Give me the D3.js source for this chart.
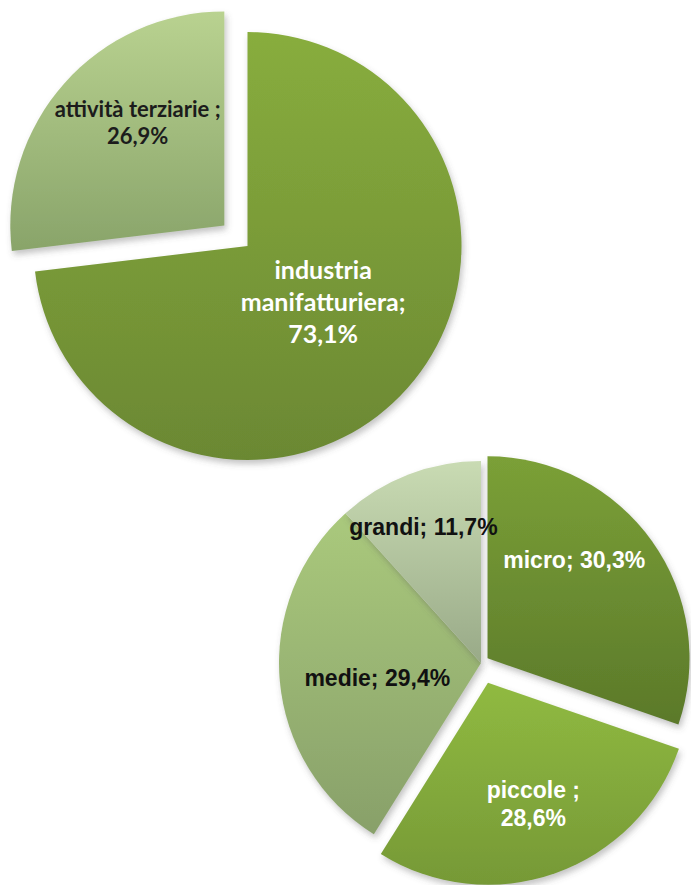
<!DOCTYPE html>
<html>
<head>
<meta charset="utf-8">
<script src="https://cdn.jsdelivr.net/npm/d3@7"></script>
<style>
  body { margin: 0; background: #fff; }
  svg { display: block; }
</style>
</head>
<body>
<svg width="691" height="885"></svg>
<script>
// settori (grafico in alto)
var settori = ["industria manifatturiera", "attività terziarie"];
var settoriValori = [73.1, 26.9];
var settoriEtichette = [["industria", "manifatturiera;", "73,1%"], ["attività terziarie ;", "26,9%"]];

// classi dimensionali (grafico in basso)
var classi = ["micro", "piccole", "medie", "grandi"];
var classiValori = [30.3, 28.6, 29.4, 11.7];
var classiEtichette = [["micro; 30,3%"], ["piccole ;", "28,6%"], ["medie; 29,4%"], ["grandi; 11,7%"]];

var svg = d3.select("svg");
var defs = svg.append("defs");

var shadow = defs.append("filter").attr("id", "ombra")
    .attr("x", "-10%").attr("y", "-10%").attr("width", "130%").attr("height", "130%");
shadow.append("feDropShadow")
    .attr("dx", 2).attr("dy", 4).attr("stdDeviation", 3)
    .attr("flood-color", "#555").attr("flood-opacity", 0.35);

function gradient(id, top, bottom) {
  var g = defs.append("linearGradient").attr("id", id)
      .attr("x1", 0).attr("y1", 0).attr("x2", 0).attr("y2", 1);
  g.append("stop").attr("offset", "0%").attr("stop-color", top);
  g.append("stop").attr("offset", "100%").attr("stop-color", bottom);
  return "url(#" + id + ")";
}

var pie = d3.pie().sort(null).value(function(d) { return d; });

function drawPie(opts) {
  var arcs = pie(opts.values);
  var arc = d3.arc().innerRadius(0).outerRadius(opts.r);
  var labelArc = d3.arc().innerRadius(opts.r * opts.lab).outerRadius(opts.r * opts.lab);
  var g = svg.append("g").attr("transform", "translate(" + opts.cx + "," + opts.cy + ")");

  var slice = g.selectAll(".slice")
      .data(arcs)
    .enter().append("g")
      .attr("class", "slice")
      .attr("transform", function(d, i) {
        var mid = (d.startAngle + d.endAngle) / 2, e = opts.explode[i];
        return "translate(" + (Math.sin(mid) * e) + "," + (-Math.cos(mid) * e) + ")";
      });

  slice.append("path")
      .attr("d", arc)
      .attr("fill", function(d, i) { return gradient(opts.id + i, opts.colors[i][0], opts.colors[i][1]); })
      .attr("filter", "url(#ombra)");

  slice.append("text")
      .attr("transform", function(d, i) {
        var c = labelArc.centroid(d), n = opts.nudge[i];
        return "translate(" + (c[0] + n[0]) + "," + (c[1] + n[1]) + ")";
      })
      .attr("text-anchor", "middle")
      .attr("font-family", opts.font)
      .attr("font-weight", "bold")
      .attr("font-size", function(d, i) { return opts.size[i]; })
      .attr("fill", function(d, i) { return opts.textColor[i]; })
      .each(function(d, i) {
        var lines = opts.labels[i], t = d3.select(this);
        lines.forEach(function(s, k) {
          t.append("tspan")
              .attr("x", 0)
              .attr("y", (k - (lines.length - 1) / 2) * opts.lineH[i] + opts.size[i] * 0.35)
              .text(s);
        });
      });
}

drawPie({
  id: "s", values: settoriValori, labels: settoriEtichette,
  cx: 247.5, cy: 246, r: 214, lab: 0.46,
  explode: [0, 31],
  nudge: [[2, -9], [-13, -37]],
  colors: [["#88ad3d", "#6b8833"], ["#b9d290", "#89a46a"]],
  textColor: ["#fff", "#1c1c1c"],
  font: "Lato, 'Open Sans', sans-serif", size: [25, 22], lineH: [32, 27]
});

drawPie({
  id: "c", values: classiValori, labels: classiEtichette,
  cx: 481, cy: 663, r: 202, lab: 0.6,
  explode: [8, 21, 0, 0],
  nudge: [[-12, -28], [5, 7], [17, 4], [-14, -23]],
  colors: [["#7ba037", "#5b792a"], ["#90ba41", "#769936"], ["#aac97c", "#88a06a"], ["#c9dbb3", "#99aa88"]],
  textColor: ["#fff", "#fff", "#111", "#111"],
  font: "'Liberation Sans', Arial, sans-serif", size: [23, 23, 23, 23], lineH: [28, 28, 28, 28]
});
</script>
</body>
</html>
